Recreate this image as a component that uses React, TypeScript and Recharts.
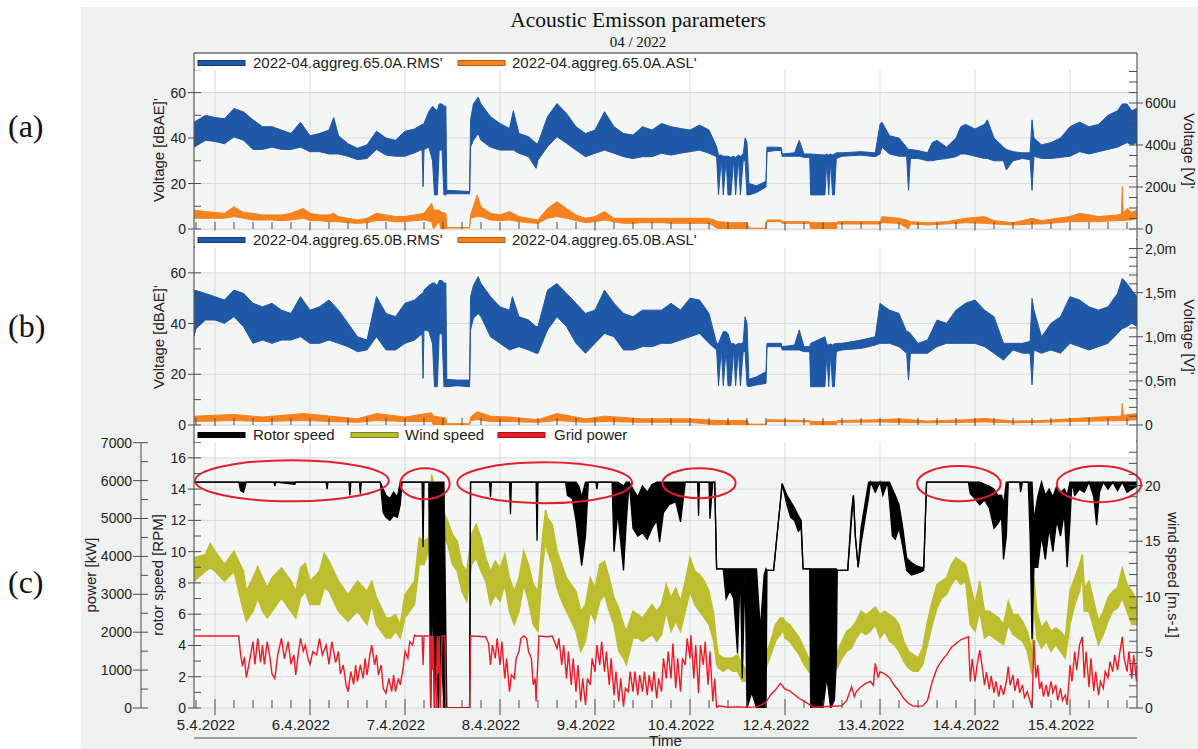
import React from 'react';
import {
  ComposedChart,
  Area,
  Line,
  XAxis,
  YAxis,
  CartesianGrid,
  ReferenceLine,
  ReferenceArea,
} from 'recharts';

type Row = [number, number, number];
type Pt = [number, number];

// ---------- axis categories ----------
const dayLabels = [
  '5.4.2022', '6.4.2022', '7.4.2022', '8.4.2022', '9.4.2022',
  '10.4.2022', '12.4.2022', '13.4.2022', '14.4.2022', '15.4.2022',
];

// ---------- (a) sensor A: RMS band [day, low, high] in dBAE ----------
const rmsA: Row[] = [
  [-0.22, 36, 47], [-0.1, 39, 50], [0, 38.5, 49], [0.1, 37.5, 48.5], [0.2, 40.5, 53], [0.3, 39, 51.5],
  [0.4, 35, 48], [0.5, 35, 45], [0.6, 36, 45], [0.7, 35, 43.5], [0.8, 35, 42], [0.9, 36, 47],
  [1.0, 34, 41], [1.1, 34, 42], [1.2, 33, 43.5], [1.25, 33, 49], [1.3, 33, 41], [1.4, 32, 37.5],
  [1.5, 30.5, 35.5], [1.6, 31, 37], [1.7, 35, 43], [1.8, 32.5, 40], [1.9, 32, 39], [2.0, 32, 43],
  [2.1, 33.5, 44], [2.18, 35, 46], [2.19, 18.6, 46], [2.2, 35, 46.4], [2.25, 36, 51.6], [2.29, 30, 54],
  [2.31, 15, 53], [2.34, 15, 52], [2.36, 34.7, 55], [2.39, 34.7, 55], [2.41, 15, 54], [2.43, 15, 54],
  [2.44, 15.5, 17], [2.68, 15.5, 16.5], [2.69, 36, 48], [2.72, 39, 55], [2.77, 42, 58], [2.8, 39, 55],
  [2.9, 36, 49.4], [3.0, 34.7, 46.4], [3.1, 34.7, 44.2], [3.14, 34.7, 52], [3.2, 33.3, 42], [3.3, 31.8, 40.6],
  [3.38, 26.7, 37.7], [3.4, 30.3, 37.7], [3.5, 36.2, 49.4], [3.6, 40.6, 55.2], [3.7, 37.7, 50.8], [3.8, 34.7, 45],
  [3.9, 31.8, 42], [4.0, 33.3, 43.5], [4.1, 34.7, 51.6], [4.2, 33.3, 45], [4.3, 31.8, 42], [4.4, 31, 41.3],
  [4.5, 31.8, 45], [4.6, 31.8, 43.5], [4.7, 33.3, 46.4], [4.8, 32.5, 45], [4.9, 33.3, 44.2], [5.0, 34, 43.5],
  [5.1, 34.7, 45.7], [5.2, 33.3, 43.5], [5.28, 31.8, 36.2], [5.3, 15, 32.5], [5.33, 31, 32.5], [5.35, 15, 32],
  [5.38, 31, 32], [5.4, 15, 32], [5.43, 15, 31.5], [5.46, 31, 32], [5.48, 15, 31.5], [5.51, 31, 32.5],
  [5.53, 15, 32], [5.56, 30, 33], [5.58, 30, 40], [5.6, 15, 38], [5.62, 15, 20], [5.7, 16, 19],
  [5.8, 18.5, 21], [5.81, 34, 36], [5.9, 34.5, 36], [5.96, 34.5, 35.8], [5.97, 32, 33], [6.1, 32, 33.5],
  [6.15, 32, 39], [6.2, 31.5, 33], [6.26, 31.5, 33], [6.27, 15, 33], [6.42, 15, 32.5], [6.44, 30, 33],
  [6.46, 15, 32.5], [6.48, 30, 33], [6.5, 15, 32.5], [6.52, 15, 33], [6.54, 31, 33.5], [6.6, 32, 33.5],
  [6.8, 32.5, 34], [6.95, 31.8, 33.5], [7.0, 33, 46], [7.02, 36, 47], [7.1, 33, 41], [7.2, 32, 40],
  [7.28, 32, 36], [7.3, 17, 35], [7.32, 31, 35], [7.4, 31, 34.5], [7.5, 30, 33.5], [7.55, 30, 38],
  [7.6, 30.5, 39], [7.7, 31, 36], [7.8, 31.8, 40], [7.85, 33, 45], [7.9, 33, 46], [8.0, 32, 44],
  [8.1, 31, 46], [8.13, 31, 48], [8.2, 30, 40], [8.3, 30, 36], [8.33, 26, 35], [8.4, 30, 34],
  [8.5, 31, 33.5], [8.58, 30.5, 33.5], [8.6, 17, 48], [8.62, 32, 40], [8.7, 31, 37], [8.8, 31, 38],
  [8.9, 31.5, 40], [9.0, 32, 45], [9.1, 34, 47], [9.2, 33, 45], [9.3, 34, 46], [9.4, 35, 50],
  [9.5, 36, 52], [9.55, 37, 55], [9.6, 38, 55], [9.65, 37, 52], [9.7, 38, 53], [9.705, 36, 50],
];

// ---------- (a) sensor A: ASL band [day, low, high] in µV ----------
const aslA: Row[] = [
  [-0.22, 51, 90], [-0.1, 51, 83], [0, 51, 79], [0.1, 51, 75], [0.2, 59, 106], [0.3, 51, 78],
  [0.4, 43, 75], [0.5, 43, 67], [0.6, 43, 67], [0.7, 40, 67], [0.8, 43, 75], [0.93, 51, 98],
  [1.0, 40, 75], [1.1, 40, 67], [1.2, 35, 67], [1.25, 35, 75], [1.3, 35, 59], [1.4, 30, 51],
  [1.5, 27, 43], [1.6, 30, 51], [1.7, 40, 75], [1.8, 40, 67], [1.9, 35, 59], [2.0, 35, 59],
  [2.1, 40, 67], [2.2, 43, 75], [2.28, 35, 122], [2.3, 0, 90], [2.36, 35, 90], [2.38, 0, 80],
  [2.43, 0, 75], [2.44, 5, 7], [2.68, 5, 7], [2.69, 51, 67], [2.76, 60, 162], [2.8, 59, 106],
  [2.9, 43, 75], [3.0, 40, 67], [3.1, 43, 83], [3.2, 35, 59], [3.3, 30, 51], [3.4, 27, 43],
  [3.5, 51, 98], [3.6, 59, 130], [3.7, 51, 98], [3.8, 40, 67], [3.9, 30, 51], [4.0, 35, 59],
  [4.1, 43, 83], [4.2, 35, 51], [4.3, 27, 51], [4.4, 27, 51], [4.5, 30, 51], [4.6, 30, 51],
  [4.7, 30, 51], [4.8, 27, 51], [5.0, 27, 51], [5.2, 27, 51], [5.3, 0, 35], [5.45, 0, 30],
  [5.6, 0, 30], [5.62, 2, 4], [5.8, 2, 4], [5.81, 35, 43], [5.96, 35, 43], [5.97, 27, 35],
  [6.26, 27, 35], [6.27, 0, 30], [6.54, 0, 30], [6.55, 24, 35], [7.0, 24, 35], [7.02, 30, 59],
  [7.2, 27, 51], [7.3, 0, 40], [7.32, 24, 35], [7.5, 19, 30], [7.7, 24, 35], [7.9, 30, 51],
  [8.1, 27, 59], [8.2, 24, 40], [8.4, 19, 30], [8.6, 24, 51], [8.7, 24, 40], [9.0, 35, 59],
  [9.1, 35, 75], [9.3, 35, 59], [9.5, 40, 67], [9.54, 40, 70], [9.55, 40, 202], [9.56, 40, 75],
  [9.6, 43, 98], [9.65, 43, 80], [9.705, 51, 90],
];

// ---------- (b) sensor B: RMS band [day, low, high] in dBAE ----------
const rmsB: Row[] = [
  [-0.22, 35, 53], [-0.2, 38, 53], [-0.1, 41.4, 51.9], [0, 41.4, 50.6], [0.1, 40.1, 49.3], [0.2, 42.7, 53.2],
  [0.3, 38.8, 51.9], [0.4, 32.2, 48], [0.5, 33.5, 46.6], [0.6, 32.2, 48], [0.7, 33.5, 45.3], [0.8, 33.5, 44],
  [0.9, 34.8, 50.6], [1.0, 32.2, 45.3], [1.1, 32.2, 46.6], [1.2, 33.5, 49.3], [1.3, 32.2, 45.3], [1.4, 30.9, 40.1],
  [1.5, 28.9, 34.8], [1.6, 29.6, 33.5], [1.7, 34.8, 50.6], [1.8, 29.6, 44], [1.9, 29.6, 42.7], [2.0, 32.2, 48],
  [2.1, 33.5, 49.3], [2.18, 36, 52], [2.19, 18.4, 52], [2.2, 37.5, 53.2], [2.25, 37, 55], [2.29, 32, 56],
  [2.31, 15.1, 56], [2.34, 15.1, 55], [2.36, 36, 57], [2.39, 36, 57], [2.41, 15.1, 56], [2.43, 15.1, 56],
  [2.44, 15.1, 18], [2.55, 15.5, 17.7], [2.68, 15.1, 17.7], [2.69, 37.5, 50.6], [2.72, 42, 55], [2.77, 44, 58.5],
  [2.8, 42.7, 55.8], [2.9, 34.8, 50.6], [3.0, 32.2, 46.6], [3.1, 29.6, 45.3], [3.13, 30, 50.6], [3.2, 30.9, 42.7],
  [3.3, 29.6, 41.4], [3.38, 28.3, 38.8], [3.4, 28.3, 38.8], [3.5, 37.5, 53.2], [3.6, 42.7, 55.8], [3.7, 38.8, 51.9],
  [3.8, 32.2, 48], [3.9, 28.3, 44], [4.0, 32.2, 45.3], [4.1, 36.1, 53.2], [4.2, 34.8, 48], [4.3, 29.6, 44],
  [4.4, 29.6, 42.7], [4.5, 30.9, 45.3], [4.6, 30.9, 45.3], [4.7, 32.2, 45.3], [4.8, 32.2, 48], [4.9, 33.5, 45.3],
  [5.0, 34.8, 50], [5.1, 36.1, 49.3], [5.2, 32.2, 44], [5.28, 29.6, 32.2], [5.3, 15.5, 32.2], [5.33, 30, 35],
  [5.35, 15.5, 36.8], [5.38, 30, 36.8], [5.4, 15.5, 36], [5.43, 15.5, 32], [5.46, 29.6, 32.2], [5.48, 15.5, 31.5],
  [5.51, 29.6, 32.2], [5.53, 15.5, 32], [5.56, 29, 32.5], [5.58, 29, 42.7], [5.6, 15.5, 40], [5.62, 15.1, 18],
  [5.7, 15.8, 19], [5.8, 16.4, 21], [5.81, 30.9, 32.2], [5.96, 30.9, 32.2], [5.97, 29.6, 30.9], [6.1, 29.6, 31.5],
  [6.15, 29.6, 37.5], [6.2, 28.9, 30.9], [6.26, 28.9, 30.9], [6.27, 15.1, 32.2], [6.42, 15.1, 34.8], [6.44, 28, 32],
  [6.46, 15.1, 31.5], [6.48, 28, 32], [6.5, 15.1, 31.5], [6.52, 15.1, 32], [6.54, 29, 32.2], [6.6, 29.6, 32.2],
  [6.8, 30.2, 33.5], [6.95, 31.5, 34.8], [7.0, 32.2, 48], [7.05, 32.2, 46.6], [7.1, 32.2, 45.3], [7.2, 30.9, 44],
  [7.28, 28.3, 36.8], [7.3, 17.7, 36.8], [7.32, 28.3, 36], [7.4, 28.3, 32.2], [7.5, 28.3, 33.5], [7.6, 30.9, 41.4],
  [7.7, 32.2, 40.1], [7.8, 32.2, 45.3], [7.9, 32.2, 48], [8.0, 32.2, 49.3], [8.1, 30.9, 45.3], [8.2, 28.3, 42.7],
  [8.3, 25.6, 32.2], [8.4, 29.6, 32.2], [8.5, 28.3, 32.2], [8.58, 28.3, 33], [8.6, 15.8, 49.9], [8.62, 29.6, 45.3],
  [8.7, 28.3, 34.8], [8.8, 29.6, 40.1], [8.9, 28.3, 42.7], [9.0, 32.2, 50.6], [9.1, 30.9, 49.3], [9.2, 29.6, 46.6],
  [9.3, 30.9, 45.3], [9.4, 32.2, 46.6], [9.5, 36.1, 51.9], [9.55, 38, 57.8], [9.6, 38.8, 55.8], [9.65, 40.1, 53.2],
  [9.705, 38.8, 50.6],
];

// ---------- (b) sensor B: ASL band [day, low, high] in mV ----------
const aslB: Row[] = [
  [-0.22, 0.04, 0.1], [0.2, 0.05, 0.12], [0.5, 0.04, 0.09], [0.93, 0.05, 0.13], [1.5, 0.03, 0.07],
  [1.7, 0.05, 0.13], [2.0, 0.04, 0.09], [2.28, 0.04, 0.14], [2.3, 0, 0.1], [2.43, 0, 0.08],
  [2.44, 0.005, 0.015], [2.68, 0.005, 0.015], [2.69, 0.05, 0.09], [2.76, 0.06, 0.15], [2.9, 0.04, 0.1],
  [3.1, 0.04, 0.09], [3.4, 0.03, 0.06], [3.6, 0.05, 0.13], [3.9, 0.03, 0.07], [4.1, 0.04, 0.1],
  [4.5, 0.03, 0.07], [5.0, 0.03, 0.07], [5.3, 0, 0.05], [5.6, 0, 0.05], [5.62, 0.005, 0.01],
  [5.8, 0.005, 0.01], [5.81, 0.04, 0.06], [6.26, 0.035, 0.05], [6.27, 0, 0.04], [6.54, 0, 0.04],
  [6.55, 0.03, 0.05], [7.0, 0.035, 0.06], [7.2, 0.03, 0.07], [7.5, 0.025, 0.045], [7.9, 0.03, 0.06],
  [8.1, 0.035, 0.075], [8.4, 0.025, 0.045], [8.7, 0.03, 0.05], [9.0, 0.04, 0.07], [9.3, 0.045, 0.09],
  [9.54, 0.05, 0.1], [9.55, 0.05, 0.246], [9.56, 0.05, 0.11], [9.705, 0.06, 0.13],
];

// ---------- (c) turbine: rotor speed band [day, low, high] in RPM ----------
const rotorSpeed: Row[] = [
  [-0.22, 14.45, 14.45], [0.25, 14.45, 14.45], [0.27, 13.9, 14.45], [0.3, 13.8, 14.45], [0.33, 14.45, 14.45],
  [0.62, 14.45, 14.45], [0.63, 14.2, 14.45], [0.64, 14.45, 14.45], [0.84, 14.3, 14.45], [0.85, 14.45, 14.45],
  [1.17, 14.45, 14.45], [1.18, 14.0, 14.45], [1.19, 14.45, 14.45], [1.41, 14.45, 14.45], [1.42, 13.6, 14.45],
  [1.43, 14.45, 14.45], [1.52, 14.45, 14.45], [1.53, 13.7, 14.45], [1.54, 14.45, 14.45], [1.74, 14.45, 14.45],
  [1.77, 12.5, 14.0], [1.8, 12.2, 13.6], [1.84, 12.0, 13.4], [1.88, 12.3, 13.8], [1.92, 12.2, 13.5],
  [1.95, 13.0, 14.45], [1.97, 14.45, 14.45], [2.18, 14.45, 14.45], [2.19, 10.3, 14.45], [2.2, 14.45, 14.45],
  [2.25, 14.45, 14.45], [2.27, 0, 14.45], [2.29, 8, 14.45], [2.31, 0, 14.45], [2.33, 5, 14.45],
  [2.35, 0, 14.45], [2.38, 4, 14.45], [2.41, 0, 14.45], [2.44, 0, 0], [2.68, 0, 0],
  [2.69, 14.45, 14.45], [2.89, 14.45, 14.45], [2.9, 13.5, 14.45], [2.91, 14.45, 14.45], [3.1, 14.45, 14.45],
  [3.11, 12.4, 14.45], [3.12, 14.45, 14.45], [3.38, 14.45, 14.45], [3.39, 10.7, 14.45], [3.4, 14.45, 14.45],
  [3.69, 14.45, 14.45], [3.71, 13.6, 14.45], [3.76, 13.4, 14.45], [3.8, 12.0, 14.45], [3.83, 10.5, 14.2],
  [3.86, 9.1, 13.5], [3.9, 11.0, 14.45], [3.93, 14.45, 14.45], [4.01, 14.45, 14.45], [4.02, 14.0, 14.45],
  [4.03, 14.45, 14.45], [4.18, 14.45, 14.45], [4.2, 10.0, 14.45], [4.24, 12.5, 14.45], [4.3, 8.8, 14.2],
  [4.33, 12.0, 14.45], [4.36, 14.45, 14.45], [4.4, 11.5, 14.0], [4.45, 11.0, 13.5], [4.5, 11.2, 14.2],
  [4.55, 10.8, 13.8], [4.6, 11.5, 14.3], [4.65, 12.0, 14.45], [4.68, 10.6, 14.45], [4.72, 12.5, 14.45],
  [4.78, 13.0, 14.45], [4.85, 13.2, 14.45], [4.9, 11.9, 14.45], [4.95, 14.45, 14.45], [5.08, 14.45, 14.45],
  [5.09, 12.3, 14.45], [5.1, 14.45, 14.45], [5.2, 14.45, 14.45], [5.21, 12.1, 14.45], [5.24, 14.45, 14.45],
  [5.26, 14.45, 14.45], [5.28, 8.9, 8.9], [5.35, 8.9, 8.9], [5.38, 7.0, 8.9], [5.42, 7.5, 8.9],
  [5.46, 7.0, 8.9], [5.5, 3.5, 8.9], [5.53, 8.9, 8.9], [5.55, 1.9, 8.9], [5.58, 8.9, 8.9],
  [5.6, 0, 8.9], [5.65, 1.0, 8.9], [5.7, 0, 8.9], [5.74, 0, 5.0], [5.78, 0, 8.5],
  [5.8, 0, 8.9], [5.81, 8.8, 8.8], [5.88, 8.8, 8.8], [5.97, 14.35, 14.35], [6.02, 13.0, 13.6],
  [6.06, 12.2, 13.2], [6.1, 12.0, 12.8], [6.14, 11.3, 12.3], [6.17, 11.5, 12.0], [6.19, 8.9, 8.9],
  [6.26, 8.9, 8.9], [6.27, 0, 8.9], [6.4, 0, 8.9], [6.44, 2.0, 8.9], [6.48, 0, 8.9],
  [6.52, 0.5, 8.9], [6.54, 3.0, 8.9], [6.55, 8.8, 8.8], [6.66, 8.8, 8.8], [6.7, 12.0, 12.6],
  [6.72, 13.6, 13.6], [6.74, 11.0, 11.0], [6.77, 9.0, 9.0], [6.8, 10.5, 11.5], [6.84, 12.0, 13.0],
  [6.88, 13.5, 14.45], [6.9, 14.45, 14.45], [6.95, 13.8, 14.45], [7.0, 14.45, 14.45], [7.03, 13.6, 14.45],
  [7.08, 14.45, 14.45], [7.1, 13.2, 14.45], [7.13, 11.0, 14.0], [7.16, 10.8, 13.6], [7.2, 11.5, 13.0],
  [7.24, 10.3, 11.5], [7.28, 8.8, 9.6], [7.33, 8.5, 9.3], [7.38, 8.6, 9.1], [7.43, 8.7, 9.0],
  [7.46, 8.8, 9.0], [7.49, 14.45, 14.45], [7.93, 14.45, 14.45], [7.95, 13.7, 14.45], [8.0, 13.4, 14.45],
  [8.05, 13.0, 14.45], [8.1, 13.3, 14.3], [8.15, 12.8, 14.2], [8.2, 11.5, 14.0], [8.24, 11.8, 13.6],
  [8.28, 12.2, 13.6], [8.3, 9.5, 13.0], [8.33, 11.0, 14.45], [8.35, 14.45, 14.45], [8.47, 14.45, 14.45],
  [8.48, 13.8, 14.45], [8.5, 14.45, 14.45], [8.56, 14.45, 14.45], [8.58, 11.0, 14.45], [8.6, 4.4, 14.45],
  [8.62, 9.0, 12.0], [8.66, 9.0, 13.5], [8.7, 11.0, 14.45], [8.74, 9.5, 13.6], [8.78, 11.5, 14.0],
  [8.82, 10.0, 13.5], [8.86, 12.0, 14.2], [8.9, 11.0, 13.8], [8.94, 12.5, 14.0], [8.97, 9.0, 13.6],
  [9.0, 12.0, 14.45], [9.02, 14.45, 14.45], [9.05, 13.6, 14.45], [9.1, 14.0, 14.45], [9.15, 13.8, 14.45],
  [9.2, 14.45, 14.45], [9.25, 13.5, 14.45], [9.28, 11.7, 14.45], [9.31, 13.8, 14.45], [9.35, 14.45, 14.45],
  [9.4, 14.0, 14.45], [9.45, 14.45, 14.45], [9.5, 13.9, 14.45], [9.55, 14.45, 14.45], [9.6, 13.8, 14.45],
  [9.65, 14.0, 14.45], [9.705, 14.2, 14.45],
];

// ---------- (c) turbine: wind speed band [day, low, high] in m/s ----------
const windSpeed: Row[] = [
  [-0.22, 11.4, 13.5], [-0.1, 12.3, 13.8], [-0.05, 12.6, 14.8], [0, 12.3, 14.1], [0.1, 11.4, 12.9], [0.2, 12.3, 14.1],
  [0.3, 8.7, 12.3], [0.33, 7.8, 10.5], [0.4, 8.7, 11.7], [0.45, 9.9, 12.7], [0.5, 8.7, 11.7], [0.55, 8.1, 10.8],
  [0.6, 8.7, 11.7], [0.7, 9.9, 12.6], [0.8, 8.7, 11.4], [0.85, 8.1, 10.5], [0.9, 9.9, 12.6], [0.95, 10.5, 13.0],
  [1.0, 9.3, 11.4], [1.1, 9.3, 12.3], [1.15, 10.8, 13.9], [1.2, 10.5, 13.2], [1.3, 8.7, 11.4], [1.4, 7.8, 10.2],
  [1.5, 8.7, 11.4], [1.6, 7.5, 10.5], [1.65, 9.3, 11.4], [1.7, 7.5, 9.9], [1.8, 6.3, 8.1], [1.85, 6.3, 8.1],
  [1.9, 6.9, 8.4], [1.95, 6.3, 7.5], [2.0, 8.1, 10.2], [2.1, 9.3, 11.4], [2.15, 12.9, 15.3], [2.2, 12.9, 15.0],
  [2.25, 14.1, 15.3], [2.28, 18.3, 21.0], [2.32, 17.1, 19.5], [2.36, 16.5, 18.6], [2.4, 15.6, 17.7], [2.45, 14.7, 16.8],
  [2.5, 12.9, 15.6], [2.55, 12.3, 15.0], [2.6, 10.5, 12.9], [2.65, 9.6, 12.3], [2.7, 12.9, 15.6], [2.75, 13.5, 16.5],
  [2.8, 12.3, 15.3], [2.85, 11.4, 13.5], [2.9, 9.3, 12.3], [2.95, 10.2, 13.2], [3.0, 9.6, 12.6], [3.05, 11.1, 13.8],
  [3.1, 8.7, 11.7], [3.15, 7.5, 10.5], [3.2, 8.7, 11.7], [3.25, 11.1, 14.1], [3.3, 9.6, 12.9], [3.35, 7.5, 11.1],
  [3.4, 6.9, 10.5], [3.45, 12.9, 15.6], [3.48, 15.0, 17.8], [3.5, 14.1, 17.1], [3.55, 12.9, 16.5], [3.6, 10.8, 14.1],
  [3.65, 9.6, 12.9], [3.7, 8.7, 11.7], [3.75, 7.8, 11.1], [3.8, 6.9, 10.5], [3.85, 5.1, 8.7], [3.9, 6.0, 9.3],
  [3.95, 8.7, 11.7], [4.0, 7.8, 10.8], [4.05, 9.6, 12.9], [4.1, 10.2, 13.2], [4.15, 8.7, 11.7], [4.2, 7.5, 9.9],
  [4.25, 5.1, 9.0], [4.3, 4.5, 7.5], [4.33, 3.9, 6.9], [4.4, 6.3, 8.7], [4.45, 6.3, 8.4], [4.5, 6.0, 8.1],
  [4.55, 6.3, 8.7], [4.6, 6.6, 9.3], [4.65, 6.0, 8.7], [4.7, 6.6, 9.3], [4.75, 8.7, 11.1], [4.8, 6.9, 9.9],
  [4.85, 7.8, 10.8], [4.9, 6.9, 9.6], [4.95, 8.7, 11.4], [5.0, 10.5, 13.5], [5.05, 9.3, 12.3], [5.1, 8.7, 12.0],
  [5.15, 8.1, 11.4], [5.2, 7.5, 10.5], [5.25, 6.0, 8.4], [5.28, 3.9, 5.7], [5.3, 3.6, 4.8], [5.35, 3.3, 4.5],
  [5.4, 3.6, 4.5], [5.45, 3.3, 4.5], [5.5, 3.3, 4.8], [5.55, 2.4, 3.9], [5.6, 2.4, 3.3], [5.65, 2.1, 3.3],
  [5.7, 2.4, 3.9], [5.75, 3.3, 4.5], [5.8, 3.6, 4.8], [5.85, 4.8, 6.0], [5.9, 6.0, 7.5], [5.95, 6.6, 8.1],
  [5.98, 7.0, 8.1], [6.0, 6.3, 7.8], [6.05, 6.0, 7.5], [6.1, 5.4, 6.9], [6.15, 4.8, 6.3], [6.2, 3.9, 5.4],
  [6.25, 3.3, 4.5], [6.3, 2.7, 3.9], [6.35, 2.7, 3.9], [6.4, 2.4, 3.6], [6.45, 2.7, 3.9], [6.5, 3.0, 4.5],
  [6.55, 3.6, 5.1], [6.6, 4.5, 6.0], [6.65, 5.1, 6.9], [6.7, 5.4, 7.2], [6.75, 6.3, 7.8], [6.8, 6.9, 8.7],
  [6.85, 6.6, 8.4], [6.9, 6.9, 8.7], [6.95, 7.5, 9.1], [7.0, 6.3, 8.4], [7.05, 6.9, 8.7], [7.1, 6.0, 8.4],
  [7.15, 5.7, 8.1], [7.2, 5.1, 7.5], [7.25, 4.2, 6.0], [7.3, 3.6, 5.1], [7.35, 3.3, 4.8], [7.4, 3.3, 4.5],
  [7.45, 3.9, 5.4], [7.5, 5.7, 7.8], [7.55, 7.5, 9.6], [7.6, 9.0, 11.1], [7.65, 9.9, 11.4], [7.7, 10.2, 11.7],
  [7.75, 11.1, 12.9], [7.8, 11.7, 13.5], [7.85, 11.1, 13.2], [7.9, 11.4, 12.9], [7.95, 7.5, 11.1], [8.0, 6.9, 9.3],
  [8.05, 8.7, 11.4], [8.1, 6.3, 8.7], [8.15, 6.6, 8.7], [8.2, 6.3, 8.4], [8.25, 6.0, 8.1], [8.3, 5.7, 7.5],
  [8.35, 7.5, 9.6], [8.4, 6.6, 8.4], [8.45, 6.3, 8.4], [8.5, 6.0, 7.8], [8.55, 5.1, 6.9], [8.6, 3.0, 5.1],
  [8.62, 9.3, 11.7], [8.65, 6.3, 8.7], [8.7, 5.4, 7.2], [8.75, 6.0, 7.8], [8.8, 5.1, 6.9], [8.85, 5.7, 7.2],
  [8.9, 5.1, 6.9], [8.95, 4.5, 6.3], [9.0, 7.5, 10.5], [9.05, 9.3, 11.7], [9.1, 10.5, 12.9], [9.13, 12.0, 13.8],
  [9.15, 8.7, 10.8], [9.2, 8.7, 11.4], [9.25, 7.2, 9.6], [9.3, 5.7, 7.8], [9.35, 6.6, 8.7], [9.4, 7.8, 9.9],
  [9.45, 8.7, 10.5], [9.5, 9.0, 10.8], [9.55, 9.9, 12.6], [9.6, 8.7, 11.1], [9.65, 7.5, 10.5], [9.705, 7.5, 9.6],
];

// ---------- (c) turbine: grid power trace [day, kW] ----------
const gridPower: Pt[] = [
  [-0.22, 1900], [0.25, 1900], [0.27, 1400], [0.29, 1100], [0.31, 1350], [0.33, 800], [0.36, 1200], [0.4, 1750],
  [0.42, 1150], [0.45, 1840], [0.48, 1200], [0.5, 1660], [0.52, 1150], [0.55, 1750], [0.58, 1300], [0.6, 900],
  [0.63, 780], [0.66, 1400], [0.7, 1840], [0.73, 1300], [0.77, 1750], [0.8, 1150], [0.83, 1400], [0.85, 870],
  [0.88, 1500], [0.9, 1840], [0.93, 1500], [0.95, 1660], [0.98, 1300], [1.0, 1150], [1.03, 1490], [1.07, 1400],
  [1.1, 1840], [1.13, 1400], [1.17, 1660], [1.2, 1150], [1.23, 1750], [1.27, 1200], [1.3, 1490], [1.32, 900],
  [1.35, 1135], [1.38, 610], [1.4, 430], [1.43, 960], [1.46, 620], [1.48, 1135], [1.5, 700], [1.53, 1135],
  [1.56, 780], [1.58, 1310], [1.6, 870], [1.63, 1400], [1.65, 1660], [1.68, 1135], [1.7, 1400], [1.72, 870],
  [1.75, 1135], [1.77, 520], [1.8, 390], [1.83, 780], [1.86, 430], [1.88, 870], [1.9, 430], [1.93, 780],
  [1.95, 610], [1.98, 1050], [2.0, 1490], [2.03, 1310], [2.05, 1750], [2.08, 1660], [2.1, 1920], [2.12, 1900],
  [2.18, 1900], [2.19, 1135], [2.2, 1900], [2.265, 1900], [2.27, 0], [2.28, 1900], [2.29, 1000], [2.3, 1900],
  [2.31, 0], [2.33, 0], [2.34, 1900], [2.35, 900], [2.36, 1900], [2.37, 0], [2.39, 1900], [2.42, 1900],
  [2.43, 0], [2.68, 0], [2.69, 1900], [2.85, 1880], [2.88, 1700], [2.9, 1135], [2.92, 1660], [2.95, 1310],
  [2.97, 1840], [3.0, 1135], [3.02, 1750], [3.05, 780], [3.07, 1310], [3.1, 430], [3.12, 870], [3.15, 780],
  [3.17, 1310], [3.2, 1490], [3.22, 1840], [3.25, 1900], [3.28, 1840], [3.3, 1490], [3.33, 1310], [3.35, 610],
  [3.37, 780], [3.38, 170], [3.41, 1900], [3.5, 1880], [3.55, 1900], [3.6, 1574], [3.62, 1840], [3.65, 1135],
  [3.67, 1660], [3.7, 780], [3.72, 1490], [3.75, 610], [3.77, 1310], [3.8, 430], [3.82, 1135], [3.85, 170],
  [3.87, 780], [3.9, 80], [3.92, 780], [3.95, 610], [3.97, 1310], [4.0, 960], [4.02, 1660], [4.05, 1135],
  [4.07, 1750], [4.1, 960], [4.12, 1490], [4.15, 610], [4.17, 1310], [4.2, 340], [4.22, 960], [4.25, 170],
  [4.27, 780], [4.3, 35], [4.32, 520], [4.35, 430], [4.37, 960], [4.4, 430], [4.42, 960], [4.45, 340],
  [4.47, 870], [4.5, 430], [4.52, 960], [4.55, 340], [4.57, 870], [4.6, 430], [4.62, 960], [4.65, 255],
  [4.67, 780], [4.7, 430], [4.72, 1310], [4.75, 780], [4.77, 1490], [4.8, 780], [4.82, 1700], [4.85, 520],
  [4.87, 1310], [4.9, 430], [4.92, 1310], [4.95, 1135], [4.97, 1840], [5.0, 1310], [5.01, 1920], [5.04, 780],
  [5.06, 1660], [5.09, 390], [5.11, 1660], [5.14, 1135], [5.16, 1750], [5.19, 610], [5.21, 1490], [5.24, 170],
  [5.26, 780], [5.28, 0], [5.3, 60], [5.4, 20], [5.5, 30], [5.6, 20], [5.7, 30], [5.75, 80],
  [5.8, 150], [5.85, 350], [5.9, 480], [5.95, 650], [6.0, 500], [6.05, 450], [6.1, 350], [6.15, 250],
  [6.2, 180], [6.25, 100], [6.3, 20], [6.6, 60], [6.65, 200], [6.7, 560], [6.73, 300], [6.75, 430],
  [6.8, 560], [6.85, 650], [6.9, 700], [6.93, 600], [6.95, 1180], [6.98, 800], [7.0, 960], [7.05, 900],
  [7.1, 800], [7.15, 600], [7.2, 450], [7.25, 250], [7.3, 120], [7.35, 50], [7.45, 50], [7.5, 200],
  [7.55, 700], [7.6, 1050], [7.65, 1250], [7.7, 1400], [7.75, 1600], [7.8, 1700], [7.85, 1800], [7.9, 1850],
  [7.93, 1880], [7.95, 700], [7.97, 1300], [8.0, 700], [8.02, 1100], [8.05, 1530], [8.08, 1000], [8.1, 600],
  [8.12, 950], [8.15, 500], [8.17, 850], [8.2, 400], [8.22, 700], [8.25, 300], [8.27, 600], [8.3, 350],
  [8.33, 700], [8.35, 1090], [8.37, 600], [8.4, 870], [8.42, 450], [8.45, 780], [8.47, 400], [8.5, 610],
  [8.52, 280], [8.55, 430], [8.58, 170], [8.6, 0], [8.62, 1790], [8.64, 800], [8.66, 1135], [8.68, 500],
  [8.7, 700], [8.72, 300], [8.75, 610], [8.77, 300], [8.8, 700], [8.82, 400], [8.85, 610], [8.87, 200],
  [8.9, 520], [8.92, 200], [8.95, 340], [8.97, 80], [9.0, 1135], [9.02, 700], [9.05, 1490], [9.07, 1000],
  [9.1, 1660], [9.13, 1880], [9.15, 800], [9.17, 1490], [9.2, 550], [9.22, 1310], [9.25, 450], [9.27, 960],
  [9.3, 340], [9.32, 700], [9.35, 520], [9.37, 960], [9.4, 800], [9.42, 1220], [9.45, 960], [9.47, 1400],
  [9.5, 1000], [9.52, 1400], [9.55, 1880], [9.57, 1310], [9.6, 960], [9.62, 1490], [9.65, 780], [9.67, 1400],
  [9.7, 700], [9.705, 1135],
];

// ---------- (c) rated-speed plateaus marked by ellipses: [dayFrom, dayTo, rpmLow, rpmHigh] ----------
const ratedZones: [number, number, number, number][] = [
  [-0.21, 1.83, 13.22, 15.85],
  [1.95, 2.47, 13.35, 15.34],
  [2.55, 4.39, 13.1, 15.72],
  [4.71, 5.48, 13.42, 15.34],
  [7.39, 8.27, 13.22, 15.47],
  [8.86, 9.75, 13.16, 15.47],
];

// ---------- layout & style ----------
const FONT = "'Liberation Sans', Arial, Helvetica, sans-serif";
const SERIF = "'Liberation Serif', 'Times New Roman', serif";
const W = 1198;
const AXIS = '#4d4d4d';
const GRID = '#d9d9d9';
const STRIPE = '#f4f5f5';
const PAGE_BG = '#eff0f0';
const BLUE = '#1f58a6';
const ORANGE = '#f5821f';
const OLIVE = '#bcbd2f';
const RED = '#ec1c24';

const PLOT_L = 194;
const PLOT_R = 1137;
const POWER_X = 141;
const A_BOTTOM = 229;
const B_BOTTOM = 425;
const C_BOTTOM = 708;

const X_MIN = -0.221;
const X_MAX = 9.705;
const A_L_MAX = 77.4;
const A_R_MAX = 838;
const B_L_MAX = 76.9;
const B_R_MAX = 2.21;
const ROTOR_MAX = 18.1;
const POWER_MAX = 7467;
const WIND_MAX = 25.45;
const PLOT_C_H = 283;

const range = (from: number, to: number, step: number) => {
  const out: number[] = [];
  for (let v = from; v <= to + 1e-9; v += step) out.push(Math.round(v * 1000) / 1000);
  return out;
};

const xTicks = range(-0.2, 9.6, 0.2);
const dayTicks = range(0, 9, 1);
const dbTicks = range(0, 70, 10);
const uvTicks = range(0, 750, 50);
const mvTicks = range(0, 2.1, 0.1);
const rotorTicks = range(0, 17, 1);
const powerTicks = range(0, 7000, 500);
const windTicks = range(0, 24, 1);

const band = (rows: Row[]) => rows.map(([t, lo, hi]) => ({ t, v: [lo, hi] }));
const trace = (rows: Pt[]) => rows.map(([t, v]) => ({ t, v }));

const near = (a: number, b: number) => Math.abs(a - b) < 1e-6;

function makeXTick(baseY: number, up: number, upMajor: number, down: number, labels: boolean) {
  return (props: any) => {
    const { x, payload } = props;
    const v = Math.round(payload.value * 10) / 10;
    const major = near(v, Math.round(v));
    return (
      <g>
        <line x1={x} x2={x} y1={baseY - (major ? upMajor : up)} y2={baseY + (major ? down : 0)} stroke={AXIS} strokeWidth={1} />
        {labels && major && (
          <text x={x - 9} y={baseY + 22} textAnchor="middle" fontSize={15} fontFamily={FONT} fill="#222">
            {dayLabels[Math.round(v)]}
          </text>
        )}
      </g>
    );
  };
}

function makeYTick(opts: {
  axisX: number;
  side: 'left' | 'right';
  major: (v: number) => boolean;
  label: (v: number) => string;
  out: number;
  inn: number;
  gap: number;
  seg?: number;
}) {
  return (props: any) => {
    const { y, payload } = props;
    const x = opts.axisX;
    const v = payload.value;
    const m = opts.major(v);
    const dir = opts.side === 'left' ? 1 : -1;
    const xa = x - dir * (m ? opts.out : 0);
    const xb = x + dir * opts.inn;
    return (
      <g>
        {opts.seg && v > 0 ? <line x1={x} x2={x} y1={y} y2={y + opts.seg} stroke={AXIS} /> : null}
        <line x1={xa} x2={xb} y1={y} y2={y} stroke={AXIS} strokeWidth={1} />
        {m && (
          <text
            x={x - dir * opts.gap}
            y={y + 5}
            textAnchor={opts.side === 'left' ? 'end' : 'start'}
            fontSize={14}
            fontFamily={FONT}
            fill="#222"
          >
            {opts.label(v)}
          </text>
        )}
      </g>
    );
  };
}

const xTickA = makeXTick(A_BOTTOM, 7, 7, 6, false);
const xTickB = makeXTick(B_BOTTOM, 7, 7, 6, false);
const xTickC = makeXTick(C_BOTTOM, 8, 9, 7, true);
const dbTick = makeYTick({ axisX: PLOT_L, side: 'left', major: (v) => v % 20 === 0, label: (v) => String(v), out: 6, inn: 7, gap: 8 });
const uvTick = makeYTick({ axisX: PLOT_R, side: 'right', major: (v) => v % 200 === 0, label: (v) => (v === 0 ? '0' : `${v}u`), out: 6, inn: 8, gap: 8 });
const mvTick = makeYTick({
  axisX: PLOT_R,
  side: 'right',
  major: (v) => near(Math.round(v * 10) % 5, 0),
  label: (v) => (v === 0 ? '0' : `${v.toFixed(1).replace('.', ',')}m`),
  out: 6,
  inn: 8,
  gap: 8,
});
const rotorTick = makeYTick({ axisX: PLOT_L, side: 'left', major: (v) => v % 2 === 0, label: (v) => String(v), out: 6, inn: 7, gap: 8 });
const powerTick = makeYTick({
  axisX: POWER_X,
  side: 'left',
  major: (v) => v % 1000 === 0,
  label: (v) => String(v),
  out: 8,
  inn: 7,
  gap: 9,
  seg: (500 * PLOT_C_H) / POWER_MAX,
});
const windTick = makeYTick({ axisX: PLOT_R, side: 'right', major: (v) => v % 5 === 0, label: (v) => String(v), out: 6, inn: 8, gap: 8 });

const bandProps = {
  xAxisId: 'x',
  dataKey: 'v',
  type: 'linear' as const,
  isAnimationActive: false,
  dot: false,
  activeDot: false,
  fillOpacity: 1,
};

function PanelA() {
  return (
    <ComposedChart width={W} height={240} margin={{ top: 53, right: 0, bottom: 0, left: 0 }}>
      <CartesianGrid xAxisId="g" yAxisId="gy" stroke={GRID} fill="#ffffff" horizontalFill={['none', STRIPE, STRIPE, STRIPE]} />
      <XAxis xAxisId="x" dataKey="t" type="number" domain={[X_MIN, X_MAX]} allowDataOverflow ticks={xTicks} interval={0}
        tickSize={0} tickMargin={0} tickLine={false} height={11} axisLine={{ stroke: AXIS }} tick={xTickA} />
      <XAxis xAxisId="g" dataKey="t" type="number" domain={[X_MIN, X_MAX]} allowDataOverflow ticks={dayTicks} interval={0} hide />
      <YAxis yAxisId="l" type="number" domain={[0, A_L_MAX]} allowDataOverflow ticks={dbTicks} interval={0} width={194}
        tickSize={0} tickMargin={0} tickLine={false} axisLine={false} tick={dbTick} />
      <YAxis yAxisId="gy" type="number" domain={[0, A_L_MAX]} allowDataOverflow ticks={[20, 40, 60]} interval={0} width={0} hide />
      <YAxis yAxisId="r" orientation="right" type="number" domain={[0, A_R_MAX]} allowDataOverflow ticks={uvTicks} interval={0}
        width={61} tickSize={0} tickMargin={0} tickLine={false} axisLine={{ stroke: AXIS }} tick={uvTick} />
      <ReferenceLine xAxisId="x" yAxisId="l" y={A_L_MAX} stroke="#333" ifOverflow="visible" />
      <ReferenceLine xAxisId="x" yAxisId="l" x={X_MIN} stroke={AXIS} ifOverflow="visible" />
      <Area {...bandProps} yAxisId="l" data={band(rmsA)} stroke={BLUE} strokeWidth={1} fill={BLUE} />
      <Area {...bandProps} yAxisId="r" data={band(aslA)} stroke={ORANGE} strokeWidth={1} fill={ORANGE} />
    </ComposedChart>
  );
}

function PanelB() {
  return (
    <ComposedChart width={W} height={436} margin={{ top: 230, right: 0, bottom: 0, left: 0 }}>
      <CartesianGrid xAxisId="g" yAxisId="gy" stroke={GRID} fill="#ffffff" horizontalFill={['none', STRIPE, STRIPE, STRIPE]} />
      <XAxis xAxisId="x" dataKey="t" type="number" domain={[X_MIN, X_MAX]} allowDataOverflow ticks={xTicks} interval={0}
        tickSize={0} tickMargin={0} tickLine={false} height={11} axisLine={{ stroke: AXIS }} tick={xTickB} />
      <XAxis xAxisId="g" dataKey="t" type="number" domain={[X_MIN, X_MAX]} allowDataOverflow ticks={dayTicks} interval={0} hide />
      <YAxis yAxisId="l" type="number" domain={[0, B_L_MAX]} allowDataOverflow ticks={dbTicks} interval={0} width={194}
        tickSize={0} tickMargin={0} tickLine={false} axisLine={false} tick={dbTick} />
      <YAxis yAxisId="gy" type="number" domain={[0, B_L_MAX]} allowDataOverflow ticks={[20, 40, 60]} interval={0} width={0} hide />
      <YAxis yAxisId="r" orientation="right" type="number" domain={[0, B_R_MAX]} allowDataOverflow ticks={mvTicks} interval={0}
        width={61} tickSize={0} tickMargin={0} tickLine={false} axisLine={{ stroke: AXIS }} tick={mvTick} />
      <ReferenceLine xAxisId="x" yAxisId="l" x={X_MIN} stroke={AXIS} ifOverflow="visible" />
      <Area {...bandProps} yAxisId="l" data={band(rmsB)} stroke={BLUE} strokeWidth={1} fill={BLUE} />
      <Area {...bandProps} yAxisId="r" data={band(aslB)} stroke={ORANGE} strokeWidth={1} fill={ORANGE} />
    </ComposedChart>
  );
}

const ellipseShape = (props: any) => {
  const { x, y, width, height } = props;
  return (
    <ellipse cx={x + width / 2} cy={y + height / 2} rx={Math.abs(width) / 2} ry={Math.abs(height) / 2}
      fill="none" stroke="#e2202a" strokeWidth={2} />
  );
};

function PanelC() {
  return (
    <ComposedChart width={W} height={749} margin={{ top: 425, right: 0, bottom: 0, left: 0 }}>
      <CartesianGrid xAxisId="g" yAxisId="gy" stroke={GRID} fill="#ffffff"
        horizontalFill={['none', STRIPE, STRIPE, STRIPE, STRIPE, STRIPE, STRIPE, STRIPE, STRIPE]} />
      <XAxis xAxisId="x" dataKey="t" type="number" domain={[X_MIN, X_MAX]} allowDataOverflow ticks={xTicks} interval={0}
        tickSize={0} tickMargin={0} tickLine={false} height={41} axisLine={{ stroke: AXIS }} tick={xTickC} />
      <XAxis xAxisId="g" dataKey="t" type="number" domain={[X_MIN, X_MAX]} allowDataOverflow ticks={dayTicks} interval={0} hide />
      <YAxis yAxisId="rot" type="number" domain={[0, ROTOR_MAX]} allowDataOverflow ticks={rotorTicks} interval={0} width={53}
        tickSize={0} tickMargin={0} tickLine={false} axisLine={false} tick={rotorTick} />
      <YAxis yAxisId="pow" type="number" domain={[0, POWER_MAX]} allowDataOverflow ticks={powerTicks} interval={0} width={141}
        tickSize={0} tickMargin={0} tickLine={false} axisLine={false} tick={powerTick} />
      <YAxis yAxisId="gy" type="number" domain={[0, ROTOR_MAX]} allowDataOverflow ticks={[2, 4, 6, 8, 10, 12, 14, 16]} interval={0} width={0} hide />
      <YAxis yAxisId="wind" orientation="right" type="number" domain={[0, WIND_MAX]} allowDataOverflow ticks={windTicks} interval={0}
        width={61} tickSize={0} tickMargin={0} tickLine={false} axisLine={{ stroke: AXIS }} tick={windTick} />
      <ReferenceLine xAxisId="x" yAxisId="rot" x={X_MIN} stroke={AXIS} ifOverflow="visible" />
      <Area {...bandProps} yAxisId="wind" data={band(windSpeed)} stroke={OLIVE} strokeWidth={1.5} fill={OLIVE} />
      <Area {...bandProps} yAxisId="rot" data={band(rotorSpeed)} stroke="#000" strokeWidth={1.3} fill="#000" />
      <Line xAxisId="x" yAxisId="pow" data={trace(gridPower)} dataKey="v" type="linear" stroke={RED} strokeWidth={1.4}
        dot={false} activeDot={false} isAnimationActive={false} />
      {ratedZones.map(([t1, t2, r1, r2], i) => (
        <ReferenceArea key={i} xAxisId="x" yAxisId="rot" x1={t1} x2={t2} y1={r1} y2={r2} ifOverflow="visible" shape={ellipseShape} />
      ))}
    </ComposedChart>
  );
}

type LegendItem = { name: string; color: string; edge: string; sx: number; tx: number };

function LegendRow({ y, h, cy, items }: { y: number; h: number; cy: number; items: LegendItem[] }) {
  return (
    <g>
      <rect x={195} y={y} width={941} height={h} fill="#ffffff" />
      {items.map((it) => (
        <g key={it.name}>
          <rect x={it.sx} y={cy - 2.5} width={47} height={5} fill={it.color} stroke={it.edge} strokeWidth={1} />
          <text x={it.tx} y={cy + 5.3} fontSize={15} fontFamily={FONT} fill="#222">{it.name}</text>
        </g>
      ))}
    </g>
  );
}

function VText({ x, y, angle, children, size = 15 }: { x: number; y: number; angle: number; children: string; size?: number }) {
  return (
    <text transform={`translate(${x},${y}) rotate(${angle})`} x={0} y={5} textAnchor="middle" fontSize={size} fontFamily={FONT} fill="#222">
      {children}
    </text>
  );
}

export default function App() {
  return (
    <div style={{ position: 'absolute', left: 0, top: 0, width: W, height: 749, background: '#fff', overflow: 'hidden' }}>
      <div style={{ position: 'absolute', left: 81, top: 7, width: W - 81, height: 742, background: PAGE_BG }} />
      <div style={{ position: 'absolute', left: 0, top: 0 }}><PanelC /></div>
      <div style={{ position: 'absolute', left: 0, top: 0 }}><PanelB /></div>
      <div style={{ position: 'absolute', left: 0, top: 0 }}><PanelA /></div>
      <svg width={W} height={749} style={{ position: 'absolute', left: 0, top: 0, pointerEvents: 'none' }}>
        <text x={638} y={27} textAnchor="middle" fontSize={21.5} fontFamily={SERIF} fill="#111">Acoustic Emisson parameters</text>
        <text x={638} y={47} textAnchor="middle" fontSize={15} fontFamily={SERIF} fill="#111">04 / 2022</text>

        <text x={8} y={137} fontSize={32} fontFamily={SERIF} fill="#111">(a)</text>
        <text x={8} y={337} fontSize={32} fontFamily={SERIF} fill="#111">(b)</text>
        <text x={8} y={593} fontSize={32} fontFamily={SERIF} fill="#111">(c)</text>

        <LegendRow y={54} h={16} cy={63} items={[
          { name: "2022-04.aggreg.65.0A.RMS'", color: BLUE, edge: '#143a70', sx: 198, tx: 253 },
          { name: "2022-04.aggreg.65.0A.ASL'", color: ORANGE, edge: '#b85d12', sx: 458, tx: 512 },
        ]} />
        <LegendRow y={230.5} h={17.5} cy={240} items={[
          { name: "2022-04.aggreg.65.0B.RMS'", color: BLUE, edge: '#143a70', sx: 198, tx: 253 },
          { name: "2022-04.aggreg.65.0B.ASL'", color: ORANGE, edge: '#b85d12', sx: 458, tx: 512 },
        ]} />
        <LegendRow y={426} h={16} cy={435} items={[
          { name: 'Rotor speed', color: '#000', edge: '#000', sx: 198, tx: 253 },
          { name: 'Wind speed', color: OLIVE, edge: '#7f8020', sx: 351, tx: 405 },
          { name: 'Grid power', color: RED, edge: '#a01418', sx: 498, tx: 554 },
        ]} />

        <VText x={158.5} y={150} angle={-90}>Voltage [dBAE]'</VText>
        <VText x={1189} y={151} angle={90}>Voltage [V]'</VText>
        <VText x={158.5} y={337} angle={-90}>Voltage [dBAE]'</VText>
        <VText x={1189} y={337} angle={90}>Voltage [V]'</VText>
        <VText x={91} y={575} angle={-90}>power [kW]</VText>
        <VText x={158} y={575} angle={-90}>rotor speed [RPM]</VText>
        <VText x={1173} y={575} angle={90}>wind speed [m.s-1]</VText>
        <text x={665.5} y={746} textAnchor="middle" fontSize={15} fontFamily={FONT} fill="#222">Time</text>
      </svg>
    </div>
  );
}
